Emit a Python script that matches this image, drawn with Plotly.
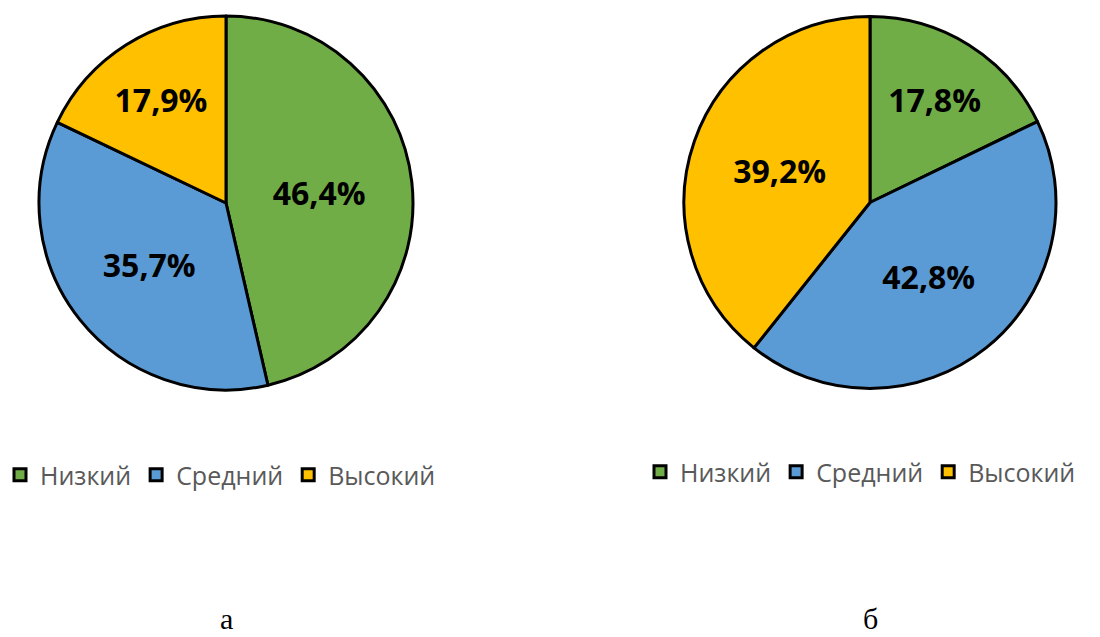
import plotly.graph_objects as go

# категории и доли (%)
categories = ["Низкий", "Средний", "Высокий"]
values_a = [46.4, 35.7, 17.9]
values_b = [17.8, 42.8, 39.2]
text_a = ["46,4%", "35,7%", "17,9%"]
text_b = ["17,8%", "42,8%", "39,2%"]
panel_labels = ["а", "б"]

colors = ["#70AD47", "#5B9BD5", "#FFC000"]

# у второй диаграммы своя легенда: метки делаем формально разными (невидимый символ),
# иначе plotly объединяет одинаковые метки круговых диаграмм в одну легенду
categories_b = [c + "\u200b" for c in categories]

fig = go.Figure()

# левая диаграмма (а)
fig.add_trace(go.Pie(
    labels=categories, values=values_a, text=text_a,
    textinfo="text", textposition="inside", insidetextorientation="horizontal",
    sort=False, direction="clockwise", rotation=0,
    marker=dict(colors=colors, line=dict(color="black", width=3)),
    textfont=dict(family="Open Sans", size=32, color="black", weight="bold"),
    domain=dict(x=[39 / 1100, 413 / 1100], y=[1 - 390 / 637, 1 - 16 / 637]),
    hoverinfo="label+percent", legend="legend",
))

# правая диаграмма (б)
fig.add_trace(go.Pie(
    labels=categories_b, values=values_b, text=text_b,
    textinfo="text", textposition="inside", insidetextorientation="horizontal",
    sort=False, direction="clockwise", rotation=0,
    marker=dict(colors=colors, line=dict(color="black", width=3)),
    textfont=dict(family="Open Sans", size=32, color="black", weight="bold"),
    domain=dict(x=[684 / 1100, 1056 / 1100], y=[1 - 389 / 637, 1 - 16 / 637]),
    hoverinfo="label+percent", legend="legend2",
))

legend_style = dict(
    orientation="h", yanchor="middle", xanchor="left",
    font=dict(family="Open Sans", size=25, color="#595959"),
    bgcolor="rgba(0,0,0,0)", itemwidth=30,
)

fig.update_layout(
    width=1100, height=637,
    margin=dict(l=0, r=0, t=0, b=0),
    paper_bgcolor="white", plot_bgcolor="white",
    showlegend=True,
    legend=dict(x=0.0, y=1 - 475 / 637, **legend_style),
    legend2=dict(x=640 / 1100, y=1 - 472 / 637, **legend_style),
)

# подписи панелей
for cx, lab in zip([226 / 1100, 870 / 1100], panel_labels):
    fig.add_annotation(
        x=cx, y=0, xref="paper", yref="paper",
        text=lab, showarrow=False, xanchor="center", yanchor="bottom",
        font=dict(family="Liberation Serif", size=30, color="black"),
    )

# убираем отступ body, чтобы график стоял ровно в углу окна
fig.write_html(
    "out.html",
    config={"displayModeBar": False},
    post_script="document.body.style.margin='0';",
)
